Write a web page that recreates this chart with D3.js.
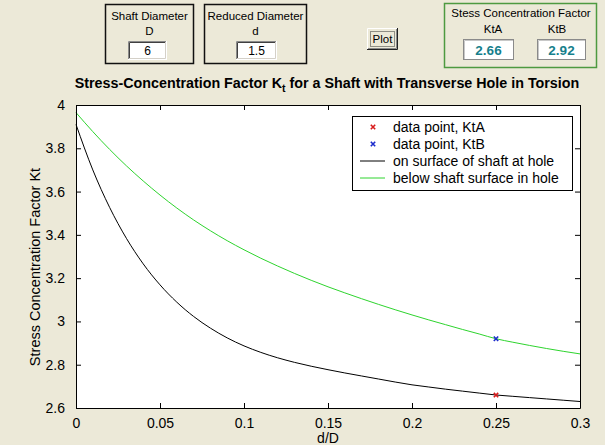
<!DOCTYPE html>
<html><head><meta charset="utf-8">
<script src="https://cdn.jsdelivr.net/npm/d3@7/dist/d3.min.js"></script>
<style>
html,body{margin:0;padding:0;background:#ECE9D8;overflow:hidden}
svg{display:block}
text{font-family:"Liberation Sans",Arial,Helvetica,sans-serif;fill:#000}
</style></head><body>
<svg id="fig" width="605" height="445"></svg>
<script>
// d/D values at which the two Kt curves are tabulated
const ratios = [0, 0.01, 0.02, 0.03, 0.04, 0.05, 0.06, 0.07, 0.08, 0.09, 0.10,
  0.11, 0.12, 0.13, 0.14, 0.15, 0.16, 0.17, 0.18, 0.19, 0.20,
  0.21, 0.22, 0.23, 0.24, 0.25, 0.26, 0.27, 0.28, 0.29, 0.30];
// Kt on the shaft surface at the hole (point A)
const ktSurface = [3.91, 3.70, 3.527, 3.384, 3.266, 3.169, 3.089, 3.023, 2.969, 2.924, 2.887,
  2.857, 2.832, 2.811, 2.793, 2.777, 2.762, 2.748, 2.734, 2.720, 2.707,
  2.697, 2.687, 2.678, 2.669, 2.66, 2.654, 2.648, 2.642, 2.636, 2.63];
// Kt below the shaft surface inside the hole (point B)
const ktBelow = [3.965, 3.877, 3.795, 3.719, 3.649, 3.584, 3.524, 3.469, 3.419, 3.373, 3.331,
  3.292, 3.256, 3.222, 3.190, 3.160, 3.132, 3.105, 3.079, 3.054, 3.030,
  3.007, 2.985, 2.963, 2.942, 2.92, 2.904, 2.889, 2.875, 2.862, 2.85];

const xTicks = [0, 0.05, 0.1, 0.15, 0.2, 0.25, 0.3];
const xTickLabels = ["0", "0.05", "0.1", "0.15", "0.2", "0.25", "0.3"];
const yTicks = [2.6, 2.8, 3.0, 3.2, 3.4, 3.6, 3.8, 4.0];
const yTickLabels = ["2.6", "2.8", "3", "3.2", "3.4", "3.6", "3.8", "4"];

// inputs and results of the calculator
const shaftDiameter = "6";
const reducedDiameter = "1.5";
const pointRatio = 0.25;     // d / D
const ktA = 2.66;
const ktB = 2.92;

const legendEntries = [
  {label: "data point, KtA", kind: "marker", color: "#d81c1c"},
  {label: "data point, KtB", kind: "marker", color: "#1c2ccc"},
  {label: "on surface of shaft at hole", kind: "line", color: "#000000"},
  {label: "below shaft surface in hole", kind: "line", color: "#2ed42e"}
];

const svg = d3.select("#fig");
const FONT = "'Liberation Sans', Arial, Helvetica, sans-serif";

// ---------- control panels ----------
function sunkenBox(g, bx, by, w, h) {
  g.append("rect").attr("x", bx).attr("y", by).attr("width", w).attr("height", h).attr("fill", "#fff");
  g.append("path").attr("d", `M${bx + 0.5},${by + h}V${by + 0.5}H${bx + w}`).attr("stroke", "#8a8a8a").attr("fill", "none");
  g.append("path").attr("d", `M${bx + 1.5},${by + h - 1}V${by + 1.5}H${bx + w - 1}`).attr("stroke", "#404040").attr("fill", "none");
  g.append("path").attr("d", `M${bx},${by + h - 0.5}H${bx + w - 0.5}V${by}`).attr("stroke", "#fff").attr("fill", "none");
  g.append("path").attr("d", `M${bx + 1},${by + h - 1.5}H${bx + w - 1.5}V${by + 1}`).attr("stroke", "#d4d0c8").attr("fill", "none");
}

function inputPanel(px, w, title, sym, value, bx, bw) {
  const g = svg.append("g");
  g.append("rect").attr("x", px + 0.5).attr("y", 4.5).attr("width", w).attr("height", 59)
    .attr("fill", "none").attr("stroke", "#111").attr("stroke-width", 1.5);
  g.append("text").attr("x", px + w / 2 + 0.5).attr("y", 20).attr("text-anchor", "middle")
    .style("font-size", "11.5px").text(title);
  g.append("text").attr("x", px + w / 2 + 0.5).attr("y", 35).attr("text-anchor", "middle")
    .style("font-size", "11.5px").text(sym);
  sunkenBox(g, bx, 41, bw, 19);
  g.append("text").attr("x", bx + bw / 2).attr("y", 55).attr("text-anchor", "middle")
    .style("font-size", "12px").text(value);
}
inputPanel(105, 88, "Shaft Diameter", "D", shaftDiameter, 128, 39);
inputPanel(204, 102, "Reduced Diameter", "d", reducedDiameter, 236, 41);

// Plot button
{
  const g = svg.append("g");
  const bx = 367, by = 28, w = 31, h = 22;
  g.append("rect").attr("x", bx).attr("y", by).attr("width", w).attr("height", h).attr("fill", "#ECE9D8");
  g.append("path").attr("d", `M${bx + 0.5},${by + h}V${by + 0.5}H${bx + w}`).attr("stroke", "#fff").attr("fill", "none");
  g.append("path").attr("d", `M${bx},${by + h - 0.5}H${bx + w - 0.5}V${by}`).attr("stroke", "#222").attr("fill", "none");
  g.append("path").attr("d", `M${bx + 1},${by + h - 1.5}H${bx + w - 1.5}V${by + 1}`).attr("stroke", "#8a8a8a").attr("fill", "none");
  g.append("rect").attr("x", bx + 3.5).attr("y", by + 3.5).attr("width", w - 7).attr("height", h - 7)
    .attr("fill", "none").attr("stroke", "#333").attr("stroke-dasharray", "1,1");
  g.append("text").attr("x", bx + w / 2).attr("y", by + 15).attr("text-anchor", "middle")
    .style("font-size", "11.5px").text("Plot");
}

// Result panel
{
  const g = svg.append("g");
  g.append("rect").attr("x", 444.5).attr("y", 3.5).attr("width", 152).attr("height", 64)
    .attr("fill", "none").attr("stroke", "#4e9a40").attr("stroke-width", 1.5);
  g.append("text").attr("x", 521).attr("y", 17).attr("text-anchor", "middle")
    .style("font-size", "11.5px").text("Stess Concentration Factor");
  g.append("text").attr("x", 493).attr("y", 33).attr("text-anchor", "middle")
    .style("font-size", "11.5px").text("KtA");
  g.append("text").attr("x", 557).attr("y", 33).attr("text-anchor", "middle")
    .style("font-size", "11.5px").text("KtB");
  [[463, 50, ktA], [537, 48, ktB]].forEach(([bx, bw, v]) => {
    g.append("rect").attr("x", bx + 0.5).attr("y", 39.5).attr("width", bw).attr("height", 20)
      .attr("fill", "#fff").attr("stroke", "#8a8a8a");
    g.append("path").attr("d", `M${bx + 1.5},${59}V${40.5}H${bx + bw}`).attr("stroke", "#c8c8c8").attr("fill", "none");
    g.append("text").attr("x", bx + bw / 2 + 0.5).attr("y", 55).attr("text-anchor", "middle")
      .style("font-size", "13.5px").style("font-weight", "bold").style("fill", "#167f8c")
      .text(v.toFixed(2));
  });
}

// ---------- chart ----------
const plotLeft = 76, plotRight = 580, plotTop = 105, plotBottom = 408;
const x = d3.scaleLinear().domain([0, 0.3]).range([plotLeft, plotRight]);
const y = d3.scaleLinear().domain([2.6, 4]).range([plotBottom, plotTop]);

svg.append("rect").attr("x", plotLeft).attr("y", plotTop)
  .attr("width", plotRight - plotLeft).attr("height", plotBottom - plotTop).attr("fill", "#fff");

// title with subscript t
const title = svg.append("text").attr("x", 327).attr("y", 88).attr("text-anchor", "middle")
  .style("font-size", "14.3px").style("font-weight", "bold");
title.append("tspan").text("Stress-Concentration Factor K");
title.append("tspan").attr("dy", 4).style("font-size", "10.5px").text("t");
title.append("tspan").attr("dy", -4).text(" for a Shaft with Transverse Hole in Torsion");

const line = d3.line().x((d, i) => x(ratios[i])).y(d => y(d)).curve(d3.curveMonotoneX);
const plot = svg.append("g");
plot.append("path").datum(ktSurface).attr("d", line).attr("fill", "none").attr("stroke", "#000").attr("stroke-width", 1);
plot.append("path").datum(ktBelow).attr("d", line).attr("fill", "none").attr("stroke", "#2ed42e").attr("stroke-width", 1);

function xMark(g, cx, cy, color) {
  const s = 2.2;
  g.append("path").attr("d", `M${cx - s},${cy - s}L${cx + s},${cy + s}M${cx - s},${cy + s}L${cx + s},${cy - s}`)
    .attr("stroke", color).attr("stroke-width", 1.6).attr("fill", "none");
}
xMark(plot, x(pointRatio), y(ktA), legendEntries[0].color);
xMark(plot, x(pointRatio), y(ktB), legendEntries[1].color);

// axes: ticks pointing inward on all four sides
function styleAxis(g) {
  g.selectAll(".domain").attr("stroke", "#000");
  g.selectAll(".tick line").attr("stroke", "#000");
  g.selectAll("text").style("font-family", FONT).style("font-size", "14px").attr("fill", "#000");
}
svg.append("g").attr("transform", `translate(0,${plotBottom})`)
  .call(d3.axisBottom(x).tickValues(xTicks).tickFormat((d, i) => xTickLabels[i]).tickSizeInner(-5).tickSizeOuter(0).tickPadding(10))
  .call(styleAxis);
svg.append("g").attr("transform", `translate(0,${plotTop})`)
  .call(d3.axisTop(x).tickValues(xTicks).tickFormat("").tickSizeInner(-5).tickSizeOuter(0))
  .call(styleAxis);
svg.append("g").attr("transform", `translate(${plotLeft},0)`)
  .call(d3.axisLeft(y).tickValues(yTicks).tickFormat((d, i) => yTickLabels[i]).tickSizeInner(-5).tickSizeOuter(0).tickPadding(11))
  .call(styleAxis);
svg.append("g").attr("transform", `translate(${plotRight},0)`)
  .call(d3.axisRight(y).tickValues(yTicks).tickFormat("").tickSizeInner(-5).tickSizeOuter(0))
  .call(styleAxis);

// axis labels
svg.append("text").attr("x", 328).attr("y", 443).attr("text-anchor", "middle")
  .style("font-size", "14px").text("d/D");
svg.append("text").attr("transform", "translate(40,267) rotate(-90)").attr("text-anchor", "middle")
  .style("font-size", "14.5px").text("Stress Concentration Factor Kt");

// legend
{
  const g = svg.append("g");
  const lx = 352, ly = 116, lw = 220, lh = 74;
  g.append("rect").attr("x", lx + 0.5).attr("y", ly + 0.5).attr("width", lw).attr("height", lh)
    .attr("fill", "#fff").attr("stroke", "#000");
  legendEntries.forEach((e, i) => {
    const ry = ly + 11 + i * 17;
    if (e.kind === "marker") xMark(g, 373, ry, e.color);
    else g.append("line").attr("x1", 360).attr("x2", 385).attr("y1", ry).attr("y2", ry)
      .attr("stroke", e.color).attr("stroke-width", 1);
    g.append("text").attr("x", 393).attr("y", ry + 5).style("font-size", "14px").text(e.label);
  });
}
</script>
</body></html>
